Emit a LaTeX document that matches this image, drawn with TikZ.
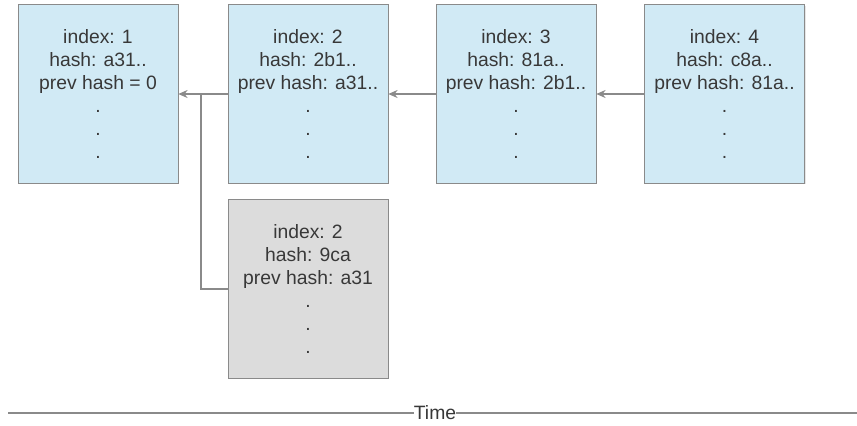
\documentclass[tikz,border=0pt]{standalone}
\usepackage{fontspec}
\setmainfont{Liberation Sans}
\usetikzlibrary{shadows,arrows.meta}
\definecolor{blockblue}{HTML}{D1EAF5}
\definecolor{blockgray}{HTML}{DCDCDC}
\definecolor{edgegray}{HTML}{8A8A8A}
\definecolor{textgray}{HTML}{383838}
\tikzset{
  block/.style={draw=edgegray, fill=blockblue, minimum width=120pt, minimum height=134pt,
    inner sep=0pt, align=center, text=textgray,
    font=\fontsize{14.5pt}{17.25pt}\selectfont,
    drop shadow={shadow xshift=0.8pt, shadow yshift=-0.8pt, opacity=0.2}},
  oldblock/.style={block, fill=blockgray},
  link/.style={draw=edgegray, line width=0.8pt},
  pointer/.style={link, -{Stealth[length=7pt,width=6pt]}},
}
\begin{document}
\begin{tikzpicture}[x=0.75pt,y=-0.75pt]
  \useasboundingbox (0,0) rectangle (857,425);
  % the chain
  \node[block] (b1) at (98,94) {index: 1\\hash: a31..\\prev hash = 0\\.\\.\\.};
  \node[block] (b2) at (308,94) {index: 2\\hash: 2b1..\\prev hash: a31..\\.\\.\\.};
  \node[block] (b3) at (516,94) {index: 3\\hash: 81a..\\prev hash: 2b1..\\.\\.\\.};
  \node[block] (b4) at (724.5,94) {index: 4\\hash: c8a..\\prev hash: 81a..\\.\\.\\.};
  % the fork
  \node[oldblock] (fork) at (308,289) {index: 2\\hash: 9ca\\prev hash: a31\\.\\.\\.};
  \draw[pointer] (b2) -- (b1);
  \draw[pointer] (b3) -- (b2);
  \draw[pointer] (b4) -- (b3);
  \coordinate (split) at (201,94);
  \draw[link] (fork.west) -| (split);
  % time axis
  \node[text=textgray, font=\fontsize{14.5pt}{17pt}\selectfont, inner sep=0pt] (time) at (435,413) {Time};
  \coordinate (tstart) at (8,413);
  \coordinate (tend) at (857,413);
  \draw[link] (tstart) -- (time.west);
  \draw[link] (time.east) -- (tend);
\end{tikzpicture}
\end{document}
